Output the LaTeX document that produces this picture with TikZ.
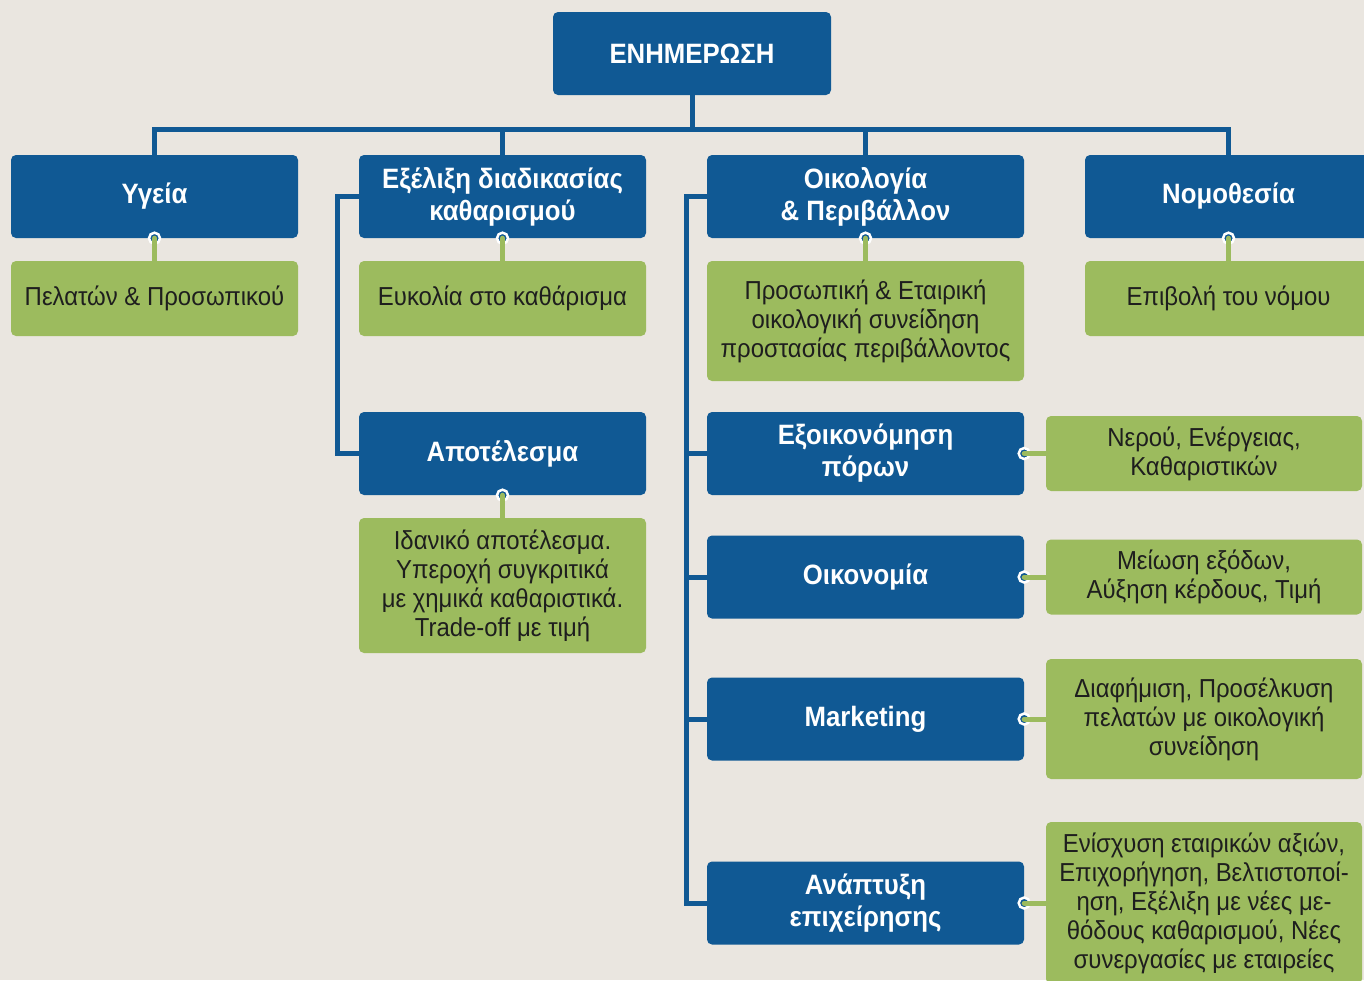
\documentclass[tikz,border=0pt]{standalone}
\usepackage{fontspec}
\setmainfont{Liberation Sans}[FakeStretch=0.92]
\definecolor{infoblue}{RGB}{16,89,148}
\definecolor{infogreen}{RGB}{156,187,94}
\definecolor{paper}{RGB}{234,230,224}
\definecolor{ink}{RGB}{30,30,30}

\begin{document}
\begin{tikzpicture}[x=1pt, y=-1pt,
  topic/.style={rectangle, rounded corners=5pt, fill=infoblue, text=white,
    font=\fontsize{28}{32}\selectfont\bfseries, align=center,
    minimum width=287pt, minimum height=83pt, inner sep=0pt},
  wide/.style={minimum width=317pt},
  note/.style={rectangle, rounded corners=5pt, fill=infogreen, text=ink,
    font=\fontsize{26}{29}\selectfont, align=center,
    minimum width=287pt, minimum height=75pt, inner sep=0pt},
  side/.style={note, minimum width=316pt},
  bus/.style={draw=infoblue, line width=5pt},
  leaf/.style={draw=infogreen, line width=5pt, line cap=round},
  knob/.style={circle, fill=infoblue, draw=white, line width=2.5pt,
    minimum size=11pt, inner sep=0pt}]

  % paper
  \path[use as bounding box, fill=paper] (0,0) rectangle (1364,980);

  % root
  \node[topic, minimum width=278pt] (root) at (692,53.5) {ΕΝΗΜΕΡΩΣΗ};

  % first row
  \node[topic] (health) at (154.5,196.5) {Υγεία};
  \node[topic] (process) at (502.5,196.5) {Εξέλιξη διαδικασίας\\καθαρισμού};
  \node[topic, wide] (ecology) at (865.5,196.5) {Οικολογία\\\& Περιβάλλον};
  \node[topic] (law) at (1228.5,196.5) {Νομοθεσία};

  \node[note] (clients) at (154.5,298.5) {Πελατών \& Προσωπικού};
  \node[note] (ease) at (502.5,298.5) {Ευκολία στο καθάρισμα};
  \node[note, wide, minimum height=120pt] (conscience) at (865.5,321)
        {Προσωπική \& Εταιρική\\οικολογική συνείδηση\\προστασίας περιβάλλοντος};
  \node[note] (enforce) at (1228.5,298.5) {Επιβολή του νόμου};

  % result
  \node[topic] (result) at (502.5,453.5) {Αποτέλεσμα};
  \node[note, minimum height=135pt] (ideal) at (502.5,585.5)
        {Ιδανικό αποτέλεσμα.\\Υπεροχή συγκριτικά\\με χημικά καθαριστικά.\\Trade-off με τιμή};

  % ecology branches
  \node[topic, wide] (saving) at (865.5,453.5) {Εξοικονόμηση\\πόρων};
  \node[topic, wide] (economy) at (865.5,577) {Οικονομία};
  \node[topic, wide] (marketing) at (865.5,719) {Marketing};
  \node[topic, wide] (growth) at (865.5,903) {Ανάπτυξη\\επιχείρησης};

  \node[side] (resources) at (1204,453.5) {Νερού, Ενέργειας,\\Καθαριστικών};
  \node[side] (costs) at (1204,577) {Μείωση εξόδων,\\Αύξηση κέρδους, Τιμή};
  \node[side, minimum height=120pt] (ads) at (1204,719)
        {Διαφήμιση, Προσέλκυση\\πελατών με οικολογική\\συνείδηση};
  \node[side, minimum height=162pt] (values) at (1204,903)
        {Ενίσχυση εταιρικών αξιών,\\Επιχορήγηση, Βελτιστοποί-\\ηση, Εξέλιξη με νέες με-\\θόδους καθαρισμού, Νέες\\συνεργασίες με εταιρείες};

  % tree lines
  \coordinate (hub) at (692,129);
  \draw[bus] (root.south) -- (hub);
  \foreach \t in {health,process,ecology,law}
    \draw[bus] (hub) -| (\t.north);

  \draw[bus] (process.west) -- ++(-21,0) |- (result.west);

  \coordinate (trunk) at (686,196.5);
  \draw[bus] (ecology.west) -- (trunk) |- (growth.west);
  \foreach \t in {saving,economy,marketing}
    \draw[bus] (trunk) |- (\t.west);

  % green links
  \foreach \a/\b in {health/clients, process/ease, ecology/conscience, law/enforce, result/ideal} {
    \node[knob] (k\a) at (\a.south) {};
    \draw[leaf] (k\a.center) -- (\b.north);
  }
  \foreach \a/\b in {saving/resources, economy/costs, marketing/ads, growth/values} {
    \node[knob] (k\a) at (\a.east) {};
    \draw[leaf] (k\a.center) -- (\b.west);
  }
\end{tikzpicture}
\end{document}
